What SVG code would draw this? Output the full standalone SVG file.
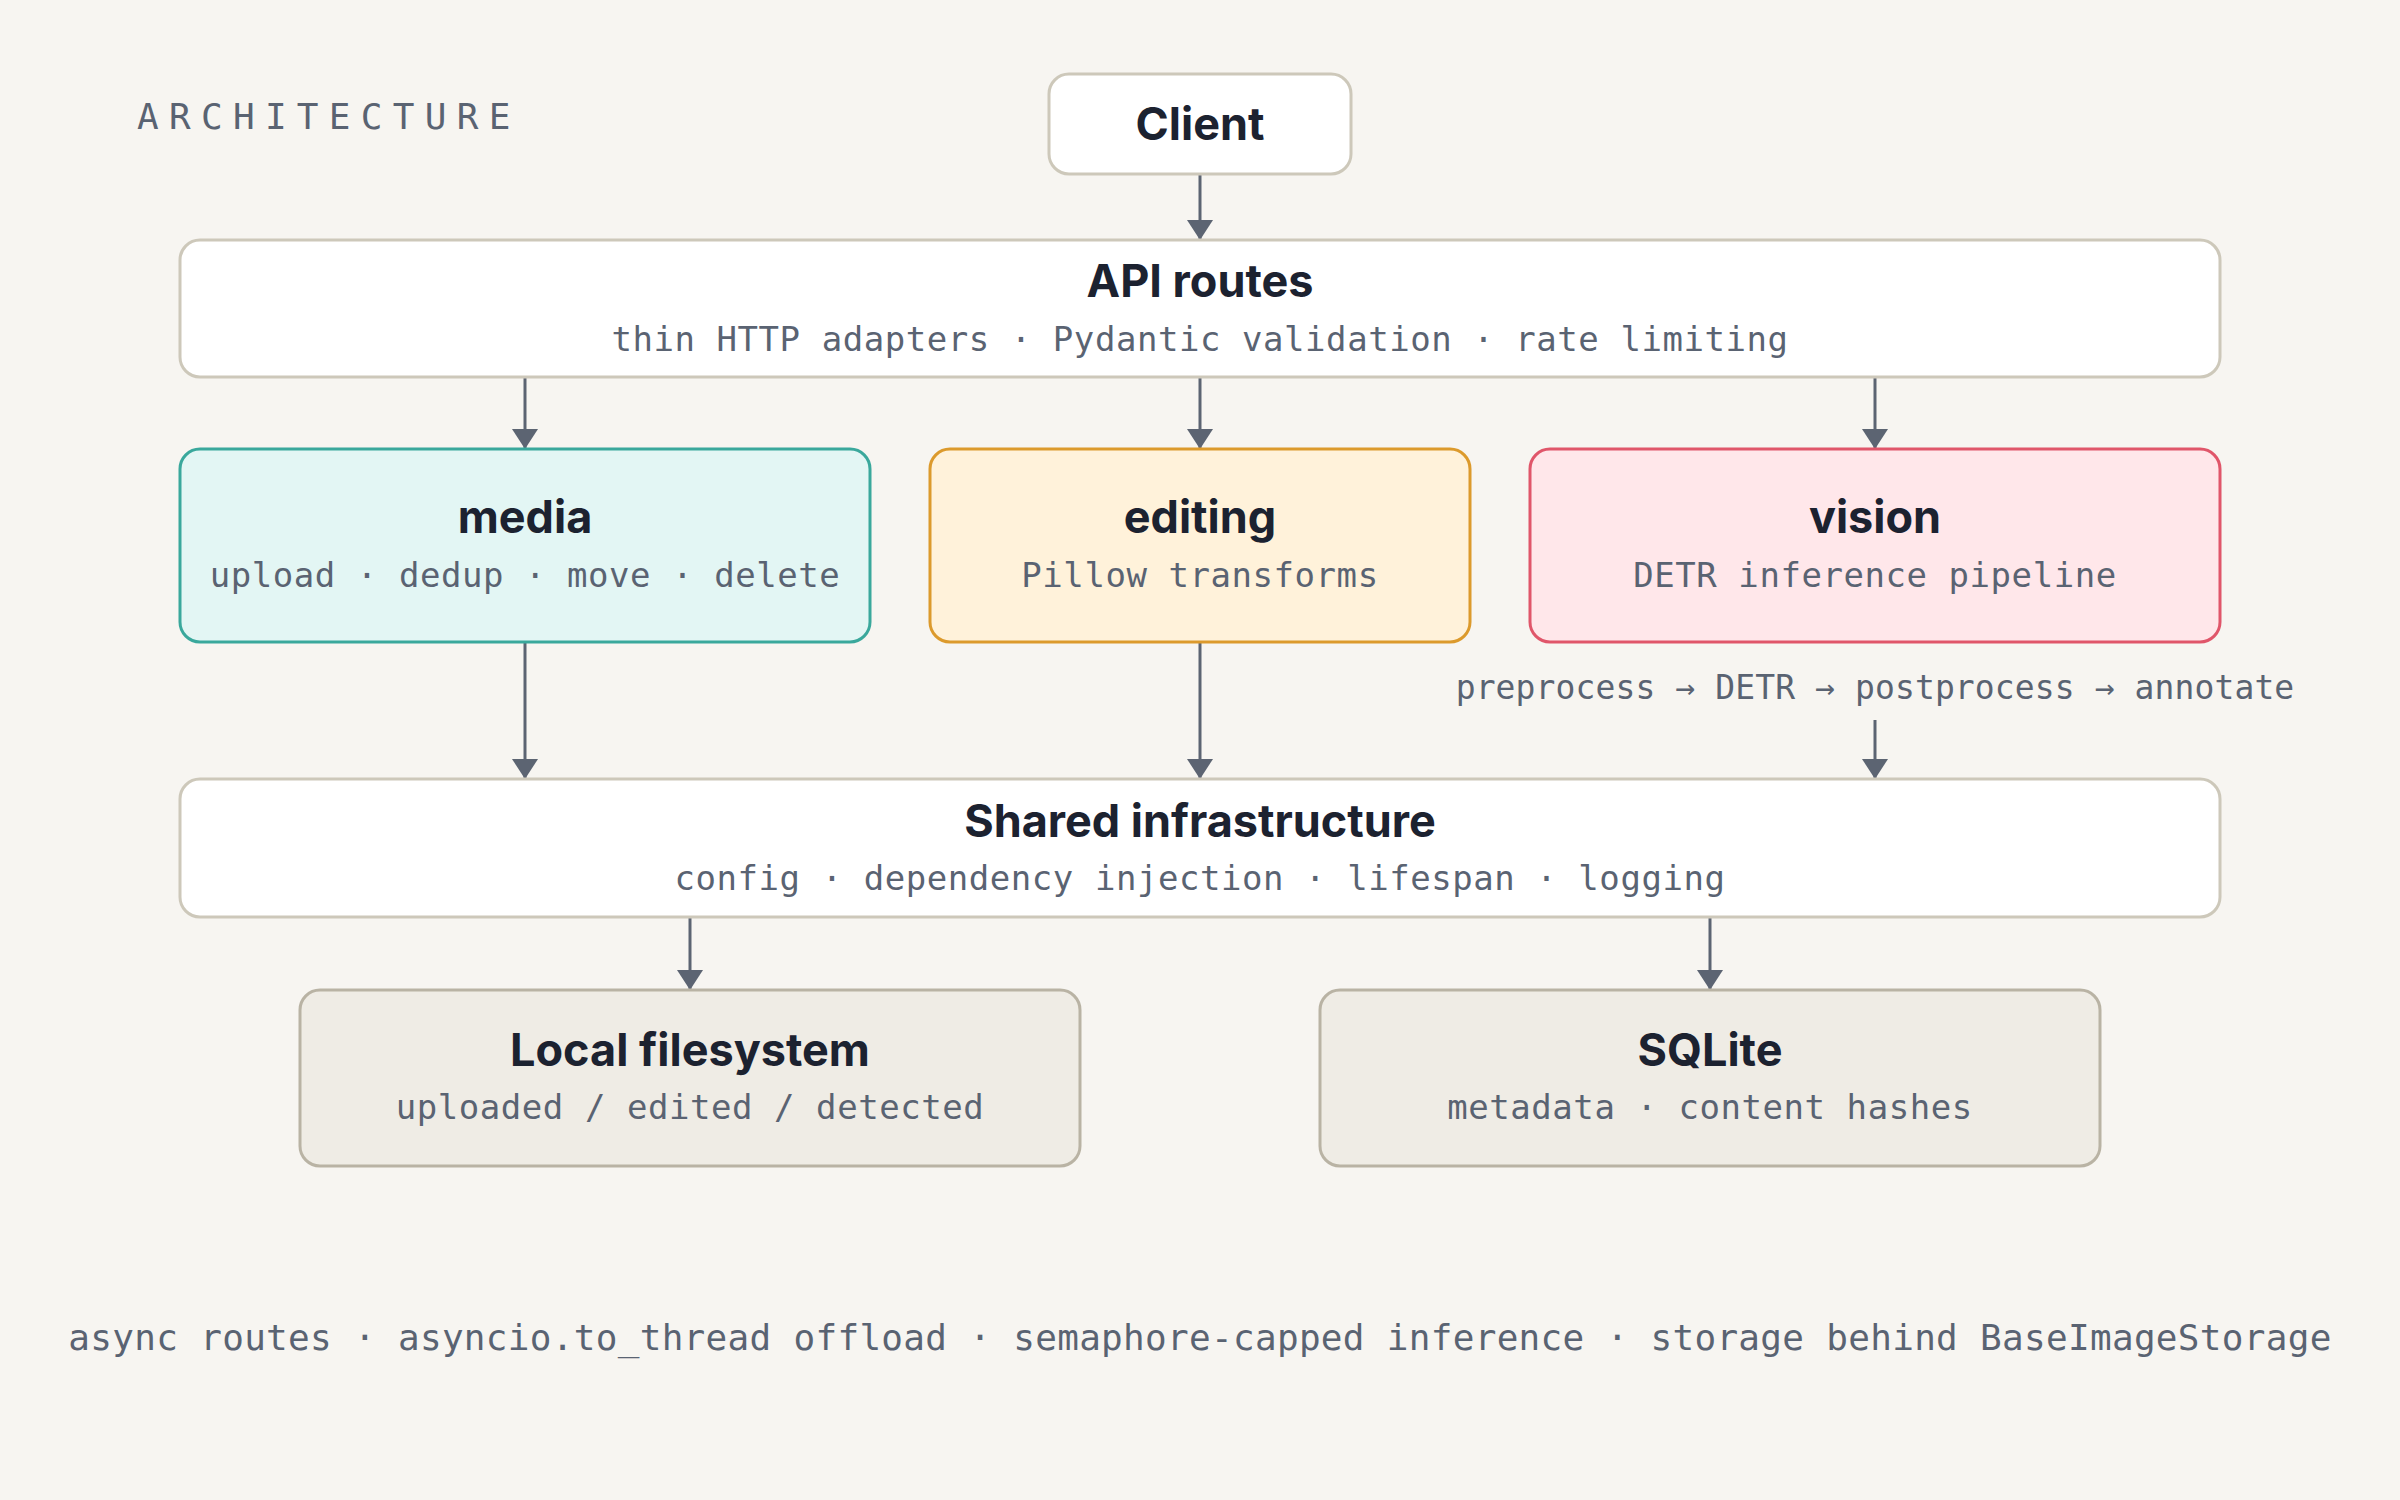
<svg xmlns="http://www.w3.org/2000/svg" width="2400" height="1500" viewBox="0 0 2400 1500">
  <defs>
    <marker id="arr" viewBox="0 0 20 26" markerUnits="userSpaceOnUse" markerWidth="20" markerHeight="26" refX="20" refY="13" orient="auto">
      <path d="M0,0 L20,13 L0,26 Z" fill="#5c6472"/>
    </marker>
    <style>
      .title{font-family:Inter,"Liberation Sans",sans-serif;font-weight:700;font-size:45px;fill:#1c2230;text-anchor:middle}
      .sub{font-family:"DejaVu Sans Mono","Liberation Mono",monospace;font-size:34px;letter-spacing:0.55px;fill:#5a6372;text-anchor:middle}
      .plain{fill:#ffffff;stroke:#cdc8ba;stroke-width:3}
      .store{fill:#efece5;stroke:#b9b3a4;stroke-width:3}
      .edge{stroke:#5c6472;stroke-width:3;fill:none;marker-end:url(#arr)}
    </style>
  </defs>
  <rect width="2400" height="1500" fill="#f7f5f1"/>

  <text x="137" y="129" font-family="DejaVu Sans Mono, Liberation Mono, monospace" font-size="36" letter-spacing="10.3" fill="#5a6372">ARCHITECTURE</text>

  <g id="connectors">
    <line class="edge" x1="1200" y1="174" x2="1200" y2="240"/>
    <line class="edge" x1="525" y1="377" x2="525" y2="449"/>
    <line class="edge" x1="1200" y1="377" x2="1200" y2="449"/>
    <line class="edge" x1="1875" y1="377" x2="1875" y2="449"/>
    <line class="edge" x1="525" y1="642" x2="525" y2="779"/>
    <line class="edge" x1="1200" y1="642" x2="1200" y2="779"/>
    <line class="edge" x1="1875" y1="720" x2="1875" y2="779"/>
    <line class="edge" x1="690" y1="917" x2="690" y2="990"/>
    <line class="edge" x1="1710" y1="917" x2="1710" y2="990"/>
  </g>

  <g id="client">
    <rect class="plain" x="1049" y="74" width="302" height="100" rx="20"/>
    <text class="title" x="1200" y="140">Client</text>
  </g>

  <g id="api-routes">
    <rect class="plain" x="180" y="240" width="2040" height="137" rx="20"/>
    <text class="title" x="1200" y="297">API routes</text>
    <text class="sub" x="1200" y="351">thin HTTP adapters · Pydantic validation · rate limiting</text>
  </g>

  <g id="media">
    <rect x="180" y="449" width="690" height="193" rx="20" fill="#e3f6f4" stroke="#3aa89c" stroke-width="3"/>
    <text class="title" x="525" y="533">media</text>
    <text class="sub" x="525" y="587">upload · dedup · move · delete</text>
  </g>

  <g id="editing">
    <rect x="930" y="449" width="540" height="193" rx="20" fill="#fff2da" stroke="#dc9a2c" stroke-width="3"/>
    <text class="title" x="1200" y="533">editing</text>
    <text class="sub" x="1200" y="587">Pillow transforms</text>
  </g>

  <g id="vision">
    <rect x="1530" y="449" width="690" height="193" rx="20" fill="#ffe7ea" stroke="#e0566a" stroke-width="3"/>
    <text class="title" x="1875" y="533">vision</text>
    <text class="sub" x="1875" y="587">DETR inference pipeline</text>
  </g>

  <text class="sub" x="1875" y="699" style="font-size:33px;letter-spacing:0.1px">preprocess → DETR → postprocess → annotate</text>

  <g id="shared-infrastructure">
    <rect class="plain" x="180" y="779" width="2040" height="138" rx="20"/>
    <text class="title" x="1200" y="837">Shared infrastructure</text>
    <text class="sub" x="1200" y="890">config · dependency injection · lifespan · logging</text>
  </g>

  <g id="local-filesystem">
    <rect class="store" x="300" y="990" width="780" height="176" rx="20"/>
    <text class="title" x="690" y="1066">Local filesystem</text>
    <text class="sub" x="690" y="1119">uploaded / edited / detected</text>
  </g>

  <g id="sqlite">
    <rect class="store" x="1320" y="990" width="780" height="176" rx="20"/>
    <text class="title" x="1710" y="1066">SQLite</text>
    <text class="sub" x="1710" y="1119">metadata · content hashes</text>
  </g>

  <text class="sub" x="1200" y="1350" style="font-size:36px;letter-spacing:0.3px">async routes · asyncio.to_thread offload · semaphore-capped inference · storage behind BaseImageStorage</text>
</svg>
